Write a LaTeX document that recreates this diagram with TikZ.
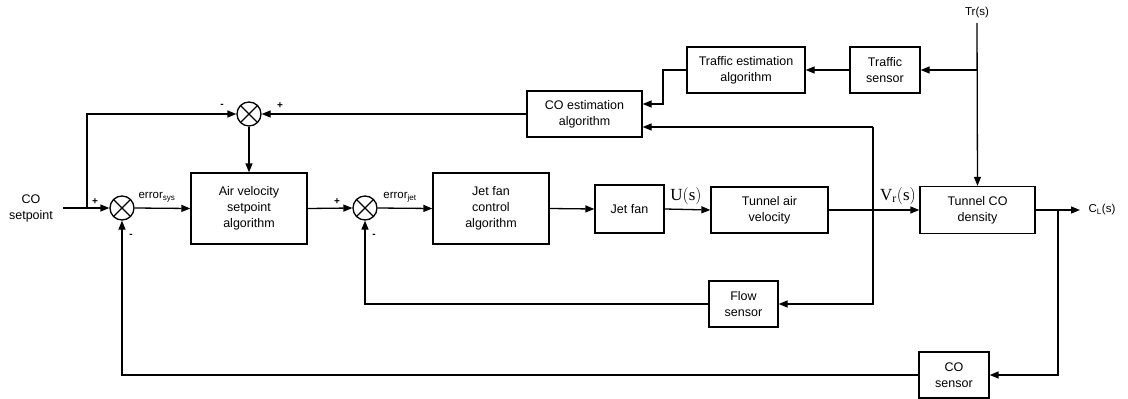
\documentclass[tikz,border=0pt]{standalone}
\usepackage{fontspec}
\setmainfont{Liberation Sans}
\newfontfamily\serifface{Liberation Serif}
\usetikzlibrary{arrows.meta}

\begin{document}
\begin{tikzpicture}[x=1pt, y=-1pt, line width=1.3pt,
	>={Triangle[length=9pt,width=7pt]},
	block/.style={draw, rectangle, align=center, inner sep=0pt, font=\fontsize{12.5}{16}\selectfont},
	sumjunction/.style={draw, circle, minimum size=24pt, inner sep=0pt,
		path picture={\draw (path picture bounding box.north west) -- (path picture bounding box.south east)
			(path picture bounding box.south west) -- (path picture bounding box.north east);}},
	sign/.style={inner sep=0pt, font=\bfseries\fontsize{10}{10}\selectfont},
	lbl/.style={inner sep=0pt, font=\fontsize{11.5}{14}\selectfont}]
	% Picture is laid out in pixels, top to bottom
	\path[use as bounding box] (0, 0) rectangle (1128, 399);
	
	% Input
	\node[align=center, font=\fontsize{12.5}{16}\selectfont] (SP) at (31, 208) {CO\\setpoint};
	\coordinate (SPin) at (63, 208);
	\coordinate (SPsplit) at (87, 208);
	
	% Summing junctions
	\node[sumjunction] (SumA) at (122, 208) {};
	\node[sumjunction] (SumB) at (249, 114) {};
	\node[sumjunction] (SumC) at (365, 208) {};
	
	% Forward path blocks
	\node[block, minimum width=116pt, minimum height=71pt] (AirVel) at (249, 208.5) {Air velocity\\setpoint\\algorithm};
	\node[block, minimum width=116pt, minimum height=71pt] (JetCtrl) at (491, 208.5) {Jet fan\\control\\algorithm};
	\node[block, minimum width=69pt, minimum height=48pt] (JetFan) at (629.5, 209) {Jet fan};
	\node[block, minimum width=117pt, minimum height=46pt] (TunAir) at (769.5, 210) {Tunnel air\\velocity};
	\node[block, minimum width=115pt, minimum height=47pt] (TunCO) at (977.5, 210) {Tunnel CO\\density};
	
	% Traffic / estimation blocks
	\node[block, minimum width=70pt, minimum height=46pt] (TrafSens) at (885, 70) {Traffic\\sensor};
	\node[block, minimum width=118pt, minimum height=46pt] (TrafEst) at (746, 70) {Traffic estimation\\algorithm};
	\node[block, minimum width=115pt, minimum height=46pt] (COest) at (584.5, 114) {CO estimation\\algorithm};
	
	% Sensors in the feedback paths
	\node[block, minimum width=69pt, minimum height=46pt] (FlowSens) at (743.5, 304) {Flow\\sensor};
	\node[block, minimum width=70pt, minimum height=46pt] (COSens) at (954, 375) {CO\\sensor};
	
	%% forward path %%
	\draw[->] (SPin) -- (SumA.west);
	\draw[->] (SPsplit) |- (SumB.west);
	\draw[->] (SumB.south) -- (AirVel.north);
	\draw[->] (SumA.east) -- (AirVel.west);
	\draw[->] (AirVel.east) -- (SumC.west);
	\draw[->] (SumC.east) -- (JetCtrl.west);
	\draw[->] (JetCtrl.east) -- (JetFan.west);
	\draw[->] (JetFan.east) -- (TunAir.west);
	\draw[->] (TunAir.east) -- (TunCO.west);
	
	% Output C_L(s)
	\coordinate (Cout) at (1080, 210);
	\coordinate (Csplit) at (1058, 210);
	\draw[->] (TunCO.east) -- (Cout);
	\node[lbl, anchor=west] (CL) at (1088, 210) {C\textsubscript{L}(s)};
	
	% Disturbance Tr(s)
	\node[lbl] (Tr) at (977, 13) {Tr(s)};
	\coordinate (TrTop) at (977, 23);
	\coordinate (TrSplit) at (977, 70);
	\draw[->] (TrTop) -- (TunCO.north);
	\draw[->] (TrSplit) -- (TrafSens.east);
	\draw[->] (TrafSens.west) -- (TrafEst.east);
	\coordinate (TEkink) at (663, 70);
	\draw[->] (TrafEst.west) -- (TEkink) |- ([yshift=10pt]COest.east);
	\draw[->] (COest.west) -- (SumB.east);
	
	%% feedback paths %%
	\coordinate (Vtop) at (873, 127);
	\coordinate (Vbot) at (873, 304);
	\draw[->] (Vtop) -- ([yshift=-13pt]COest.east);
	\draw[->] (Vtop) -- (Vbot) -- (FlowSens.east);
	\draw[->] (FlowSens.west) -| (SumC.south);
	\draw[->] (Csplit) |- (COSens.east);
	\draw[->] (COSens.west) -| (SumA.south);
	
	%% signal labels %%
	\node[lbl] (ErrSys) at (157, 197) {error\textsubscript{sys}};
	\node[lbl] (ErrJet) at (400, 197) {error\textsubscript{jet}};
	\node[inner sep=0pt, font=\serifface\fontsize{17}{17}\selectfont] (Us) at (686, 196) {U$\bigl($s$\bigr)$};
	\node[inner sep=0pt, font=\serifface\fontsize{17}{17}\selectfont] (Vr) at (898, 196) {V\textsubscript{r}$\bigl($s$\bigr)$};
	
	% Signs
	\node[sign] (pA) at (95, 202) {+};
	\node[sign] (mA) at (131, 236) {-};
	\node[sign] (mB) at (222, 106) {-};
	\node[sign] (pB) at (280, 106) {+};
	\node[sign] (pC) at (337, 202) {+};
	\node[sign] (mC) at (374, 236) {-};
\end{tikzpicture}
\end{document}
